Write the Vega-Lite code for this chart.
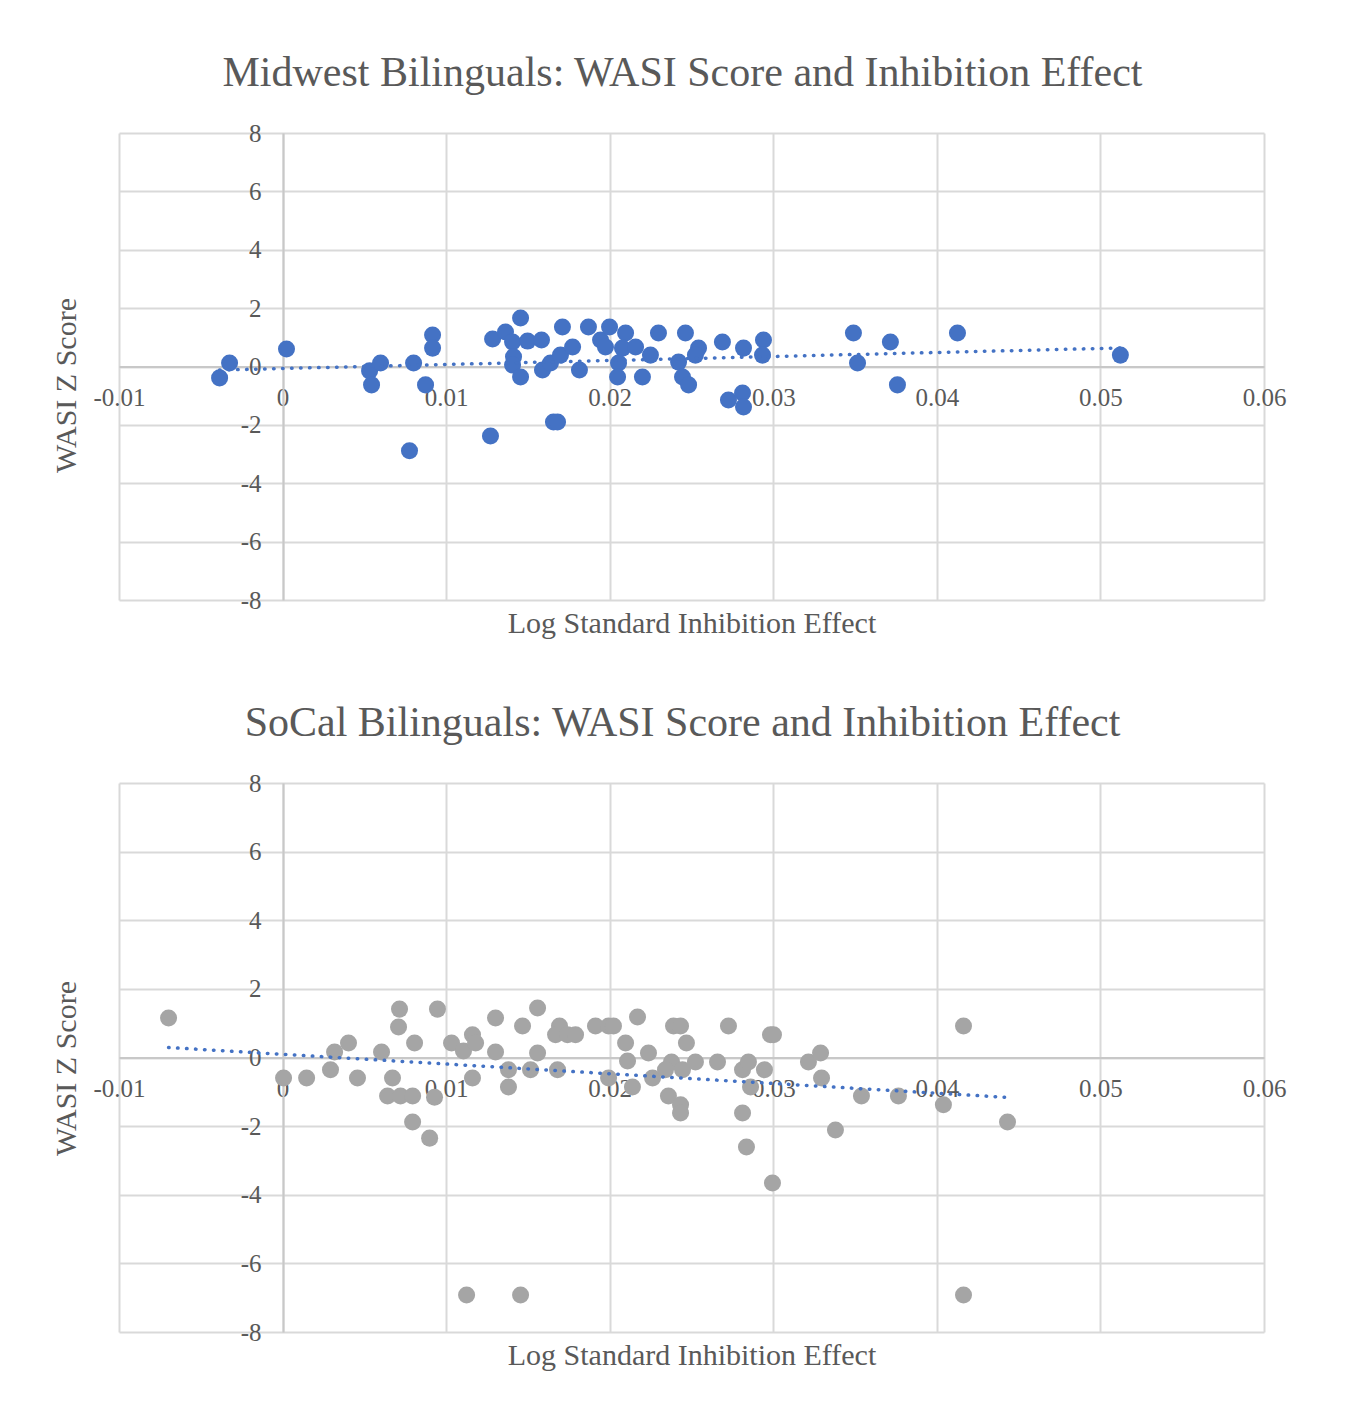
{
  "$schema": "https://vega.github.io/schema/vega-lite/v6.json",
  "background": "white",
  "padding": {"left": 50, "top": 52, "right": 20, "bottom": 10},
  "spacing": 64,
  "datasets": {
    "midwest": [
      {"x": -0.00385, "y": -0.39}, {"x": -0.00324, "y": 0.12}, {"x": 0.00024, "y": 0.60},
      {"x": 0.00532, "y": -0.15}, {"x": 0.00544, "y": -0.63}, {"x": 0.00599, "y": 0.12},
      {"x": 0.00801, "y": 0.12}, {"x": 0.00874, "y": -0.63}, {"x": 0.00917, "y": 1.08},
      {"x": 0.00917, "y": 0.63}, {"x": 0.00776, "y": -2.89}, {"x": 0.01271, "y": -2.38},
      {"x": 0.01284, "y": 0.94}, {"x": 0.01363, "y": 1.18}, {"x": 0.01455, "y": 1.66},
      {"x": 0.01406, "y": 0.84}, {"x": 0.01498, "y": 0.87}, {"x": 0.01583, "y": 0.91},
      {"x": 0.01412, "y": 0.33}, {"x": 0.01406, "y": 0.05}, {"x": 0.01455, "y": -0.36},
      {"x": 0.01589, "y": -0.12}, {"x": 0.01638, "y": 0.12}, {"x": 0.01699, "y": 0.39},
      {"x": 0.01773, "y": 0.67}, {"x": 0.01711, "y": 1.35}, {"x": 0.01815, "y": -0.12},
      {"x": 0.01870, "y": 1.35}, {"x": 0.01944, "y": 0.91}, {"x": 0.01974, "y": 0.67},
      {"x": 0.01999, "y": 1.35}, {"x": 0.02097, "y": 1.15}, {"x": 0.02078, "y": 0.63},
      {"x": 0.02158, "y": 0.67}, {"x": 0.02054, "y": 0.12}, {"x": 0.02048, "y": -0.36},
      {"x": 0.02200, "y": -0.36}, {"x": 0.02249, "y": 0.39}, {"x": 0.02298, "y": 1.15},
      {"x": 0.02421, "y": 0.15}, {"x": 0.02445, "y": -0.36}, {"x": 0.02482, "y": -0.63},
      {"x": 0.02463, "y": 1.15}, {"x": 0.02543, "y": 0.63}, {"x": 0.02524, "y": 0.39},
      {"x": 0.02689, "y": 0.84}, {"x": 0.02726, "y": -1.15}, {"x": 0.02818, "y": 0.63},
      {"x": 0.02812, "y": -0.91}, {"x": 0.02818, "y": -1.39}, {"x": 0.02940, "y": 0.91},
      {"x": 0.02934, "y": 0.39}, {"x": 0.01656, "y": -1.90}, {"x": 0.01681, "y": -1.90},
      {"x": 0.03490, "y": 1.15}, {"x": 0.03515, "y": 0.12}, {"x": 0.03716, "y": 0.84},
      {"x": 0.03759, "y": -0.63}, {"x": 0.04126, "y": 1.15}, {"x": 0.05122, "y": 0.39}
    ],
    "socal": [
      {"x": -0.00697, "y": 1.15}, {"x": 0.00006, "y": -0.60}, {"x": 0.00147, "y": -0.60},
      {"x": 0.00293, "y": -0.36}, {"x": 0.00318, "y": 0.16}, {"x": 0.00403, "y": 0.42},
      {"x": 0.00458, "y": -0.60}, {"x": 0.00605, "y": 0.16}, {"x": 0.00672, "y": -0.60},
      {"x": 0.00715, "y": 1.41}, {"x": 0.00709, "y": 0.89}, {"x": 0.00642, "y": -1.12},
      {"x": 0.00721, "y": -1.12}, {"x": 0.00795, "y": -1.12}, {"x": 0.00807, "y": 0.42},
      {"x": 0.00795, "y": -1.88}, {"x": 0.00899, "y": -2.35}, {"x": 0.00947, "y": 1.41},
      {"x": 0.00929, "y": -1.16}, {"x": 0.01033, "y": 0.42}, {"x": 0.01106, "y": 0.19},
      {"x": 0.01161, "y": 0.66}, {"x": 0.01180, "y": 0.42}, {"x": 0.01161, "y": -0.60},
      {"x": 0.01302, "y": 1.15}, {"x": 0.01302, "y": 0.16}, {"x": 0.01381, "y": -0.36},
      {"x": 0.01381, "y": -0.86}, {"x": 0.01467, "y": 0.92}, {"x": 0.01559, "y": 1.44},
      {"x": 0.01559, "y": 0.13}, {"x": 0.01516, "y": -0.36}, {"x": 0.01693, "y": 0.92},
      {"x": 0.01669, "y": 0.66}, {"x": 0.01742, "y": 0.66}, {"x": 0.01791, "y": 0.66},
      {"x": 0.01681, "y": -0.36}, {"x": 0.01913, "y": 0.92}, {"x": 0.01993, "y": 0.92},
      {"x": 0.02023, "y": 0.92}, {"x": 0.02170, "y": 1.18}, {"x": 0.02097, "y": 0.42},
      {"x": 0.02109, "y": -0.10}, {"x": 0.02237, "y": 0.13}, {"x": 0.01993, "y": -0.60},
      {"x": 0.02139, "y": -0.86}, {"x": 0.02262, "y": -0.60}, {"x": 0.02390, "y": 0.92},
      {"x": 0.02433, "y": 0.92}, {"x": 0.02469, "y": 0.42}, {"x": 0.02378, "y": -0.13},
      {"x": 0.02341, "y": -0.36}, {"x": 0.02445, "y": -0.36}, {"x": 0.02524, "y": -0.13},
      {"x": 0.02359, "y": -1.12}, {"x": 0.02433, "y": -1.38}, {"x": 0.02433, "y": -1.62},
      {"x": 0.02659, "y": -0.13}, {"x": 0.02726, "y": 0.92}, {"x": 0.02812, "y": -0.36},
      {"x": 0.02848, "y": -0.13}, {"x": 0.02812, "y": -1.62}, {"x": 0.02836, "y": -2.61},
      {"x": 0.02861, "y": -0.86}, {"x": 0.02946, "y": -0.36}, {"x": 0.02983, "y": 0.66},
      {"x": 0.03001, "y": 0.66}, {"x": 0.02995, "y": -3.66}, {"x": 0.03215, "y": -0.13},
      {"x": 0.03289, "y": 0.13}, {"x": 0.03295, "y": -0.60}, {"x": 0.03380, "y": -2.11},
      {"x": 0.03539, "y": -1.12}, {"x": 0.03765, "y": -1.12}, {"x": 0.04040, "y": -1.38},
      {"x": 0.04163, "y": 0.92}, {"x": 0.04432, "y": -1.88}, {"x": 0.01125, "y": -6.92},
      {"x": 0.01455, "y": -6.92}, {"x": 0.04163, "y": -6.92}
    ]
  },
  "config": {
    "font": "Liberation Serif",
    "view": {"stroke": null},
    "title": {"font": "Liberation Serif", "fontSize": 42, "fontWeight": "normal", "color": "#595959", "anchor": "middle", "baseline": "alphabetic", "dx": -9},
    "axis": {
      "ticks": false, "gridColor": "#d9d9d9", "gridWidth": 2, "domainColor": "#c8c8c8", "domainWidth": 2
    }
  },
  "vconcat": [
    {
      "title": {"text": "Midwest Bilinguals: WASI Score and Inhibition Effect", "offset": 26},
      "width": 1145,
      "height": 467,
      "data": {"name": "midwest"},
      "layer": [
        {
          "mark": {"type": "circle", "size": 290, "opacity": 1, "color": "#4472C4"},
          "encoding": {
            "x": {"field": "x", "type": "quantitative",
              "scale": {"domain": [-0.01, 0.06], "nice": false, "zero": false},
              "axis": {"values": [-0.01, 0, 0.01, 0.02, 0.03, 0.04, 0.05, 0.06], "format": ".2~f",
                "labelExpr": "replace(datum.label, '\u2212', '-')",
                "labelFont": "Liberation Serif", "labelFontSize": 25, "labelColor": "#595959",
                "titleFont": "Liberation Serif", "titleFontSize": 30, "titleFontWeight": "normal", "titleColor": "#595959",
                "title": "Log Standard Inhibition Effect", "offset": -233.5, "labelPadding": 19,
                "titleY": 256.5, "titleBaseline": "middle", "labelFlush": false}},
            "y": {"field": "y", "type": "quantitative",
              "scale": {"domain": [-8, 8], "nice": false},
              "axis": {"values": [-8, -6, -4, -2, 0, 2, 4, 6, 8], "format": "d",
                "labelExpr": "replace(datum.label, '\u2212', '-')",
                "labelFont": "Liberation Serif", "labelFontSize": 25, "labelColor": "#595959",
                "titleFont": "Liberation Serif", "titleFontSize": 30, "titleFontWeight": "normal", "titleColor": "#595959",
                "title": "WASI Z Score", "offset": -164, "labelPadding": 22,
                "titleX": -217, "titleY": 252, "titleBaseline": "middle", "titleAngle": -90}}
          }
        },
        {
          "transform": [{"regression": "y", "on": "x"}],
          "mark": {"type": "line", "color": "#4472C4", "strokeWidth": 3.5, "strokeCap": "round", "strokeDash": [0.5, 8.5]},
          "encoding": {
            "x": {"field": "x", "type": "quantitative"},
            "y": {"field": "y", "type": "quantitative"}
          }
        }
      ]
    },
    {
      "title": {"text": "SoCal Bilinguals: WASI Score and Inhibition Effect", "offset": 26},
      "width": 1145,
      "height": 549,
      "data": {"name": "socal"},
      "layer": [
        {
          "mark": {"type": "circle", "size": 290, "opacity": 1, "color": "#A5A5A5"},
          "encoding": {
            "x": {"field": "x", "type": "quantitative",
              "scale": {"domain": [-0.01, 0.06], "nice": false, "zero": false},
              "axis": {"values": [-0.01, 0, 0.01, 0.02, 0.03, 0.04, 0.05, 0.06], "format": ".2~f",
                "labelExpr": "replace(datum.label, '\u2212', '-')",
                "labelFont": "Liberation Serif", "labelFontSize": 25, "labelColor": "#595959",
                "titleFont": "Liberation Serif", "titleFontSize": 30, "titleFontWeight": "normal", "titleColor": "#595959",
                "title": "Log Standard Inhibition Effect", "offset": -274.5, "labelPadding": 19,
                "titleY": 297.5, "titleBaseline": "middle", "labelFlush": false}},
            "y": {"field": "y", "type": "quantitative",
              "scale": {"domain": [-8, 8], "nice": false},
              "axis": {"values": [-8, -6, -4, -2, 0, 2, 4, 6, 8], "format": "d",
                "labelExpr": "replace(datum.label, '\u2212', '-')",
                "labelFont": "Liberation Serif", "labelFontSize": 25, "labelColor": "#595959",
                "titleFont": "Liberation Serif", "titleFontSize": 30, "titleFontWeight": "normal", "titleColor": "#595959",
                "title": "WASI Z Score", "offset": -164, "labelPadding": 22,
                "titleX": -217, "titleY": 285, "titleBaseline": "middle", "titleAngle": -90}}
          }
        },
        {
          "transform": [{"regression": "y", "on": "x"}],
          "mark": {"type": "line", "color": "#4472C4", "strokeWidth": 3.5, "strokeCap": "round", "strokeDash": [0.5, 8.5]},
          "encoding": {
            "x": {"field": "x", "type": "quantitative"},
            "y": {"field": "y", "type": "quantitative"}
          }
        }
      ]
    }
  ]
}
